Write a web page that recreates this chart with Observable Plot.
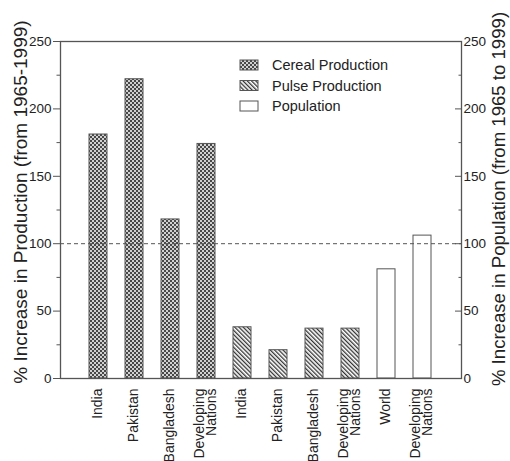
<!DOCTYPE html>
<html>
<head>
<meta charset="utf-8">
<script src="https://cdn.jsdelivr.net/npm/d3@7"></script>
<script src="https://cdn.jsdelivr.net/npm/@observablehq/plot@0.6"></script>
<style>
  html, body { margin: 0; padding: 0; background: white; }
</style>
</head>
<body>
<div id="chart"></div>
<script>
// ---- data ----
const categories = ["India", "Pakistan", "Bangladesh", "Developing\nNations",
                    "India", "Pakistan", "Bangladesh", "Developing\nNations",
                    "World", "Developing\nNations"];
const groups = ["Cereal Production", "Cereal Production", "Cereal Production", "Cereal Production",
                "Pulse Production", "Pulse Production", "Pulse Production", "Pulse Production",
                "Population", "Population"];
const values = [181, 222, 118, 174, 38, 21, 37, 37, 81, 106];
const majorTicks = [0, 50, 100, 150, 200, 250];
const minorTicks = [25, 75, 125, 175, 225];
const referenceLine = [100];
const legendLabels = ["Cereal Production", "Pulse Production", "Population"];
const leftTitle = "% Increase in Production (from 1965-1999)";
const rightTitle = "% Increase in Population (from 1965 to 1999)";

const data = values.map((v, i) => ({key: i, label: categories[i], group: groups[i], value: v}));
const fills = {
  "Cereal Production": "url(#cerealPat)",
  "Pulse Production": "url(#pulsePat)",
  "Population": "white"
};

const plot = Plot.plot({
  width: 510,
  height: 461,
  marginLeft: 60,
  marginRight: 49,
  marginTop: 41,
  marginBottom: 83,
  style: {fontFamily: "'Liberation Sans', Arial, sans-serif", fontSize: "13px", color: "#222", background: "white"},
  x: {type: "band", domain: d3.range(categories.length), paddingInner: 0.49, paddingOuter: 0.755},
  y: {domain: [0, 250]},
  marks: [
    ...legendLabels.map(g => Plot.barY(data.filter(d => d.group === g), {
      x: "key", y: "value", fill: fills[g], stroke: "#555", strokeWidth: 1
    })),
    Plot.ruleY(referenceLine, {stroke: "#555", strokeDasharray: "4,3", strokeWidth: 1}),
    Plot.frame({stroke: "#555", strokeWidth: 1.3}),
    Plot.axisY({anchor: "left", ticks: majorTicks, tickSize: 7, tickPadding: 2, label: null, fontSize: 13.5, stroke: "#555"}),
    Plot.axisY({anchor: "left", ticks: minorTicks, tickSize: 3.5, tickFormat: () => "", label: null, stroke: "#555"}),
    Plot.axisY({anchor: "right", ticks: majorTicks, tickSize: -7, tickPadding: 9, label: null, fontSize: 13.5, stroke: "#555"}),
    Plot.axisY({anchor: "right", ticks: minorTicks, tickSize: -3.5, tickFormat: () => "", label: null, stroke: "#555"}),
    Plot.axisX({ticks: d3.range(categories.length), tickFormat: i => categories[i], tickRotate: -90,
                tickSize: 0, tickPadding: 10, label: null, fontSize: 14, lineHeight: 0.8}),
    Plot.text([leftTitle], {text: d => d, frameAnchor: "left", textAnchor: "middle", rotate: -90, dx: -40, dy: -8, fontSize: 19, fill: "#222"}),
    Plot.text([rightTitle], {text: d => d, frameAnchor: "right", textAnchor: "middle", rotate: -90, dx: 38, dy: -11, fontSize: 18.6, fill: "#222"})
  ]
});

// patterns
const svg = d3.select(plot);
const defs = svg.insert("defs", ":first-child");
const cp = defs.append("pattern").attr("id", "cerealPat").attr("patternUnits", "userSpaceOnUse")
  .attr("width", 4).attr("height", 4);
cp.append("rect").attr("width", 4).attr("height", 4).attr("fill", "#484848");
cp.append("circle").attr("cx", 1).attr("cy", 1).attr("r", 1).attr("fill", "white");
cp.append("circle").attr("cx", 3).attr("cy", 3).attr("r", 1).attr("fill", "white");
const pp = defs.append("pattern").attr("id", "pulsePat").attr("patternUnits", "userSpaceOnUse")
  .attr("width", 3).attr("height", 3).attr("patternTransform", "rotate(-45)");
pp.append("rect").attr("width", 3).attr("height", 3).attr("fill", "white");
pp.append("rect").attr("width", 1.3).attr("height", 3).attr("fill", "#333");

// legend
const lg = svg.append("g").attr("font-family", "'Liberation Sans', Arial, sans-serif")
  .attr("font-size", 14.5).attr("text-anchor", "start");
legendLabels.forEach((g, i) => {
  const y = 60 + i * 20.5;
  lg.append("rect").attr("x", 240).attr("y", y).attr("width", 18).attr("height", 10)
    .attr("fill", fills[g]).attr("stroke", "#555").attr("stroke-width", 1);
  lg.append("text").attr("x", 272).attr("y", y + 5).attr("dy", "0.35em").attr("fill", "#222").text(g);
});

document.getElementById("chart").appendChild(plot);
</script>
</body>
</html>
